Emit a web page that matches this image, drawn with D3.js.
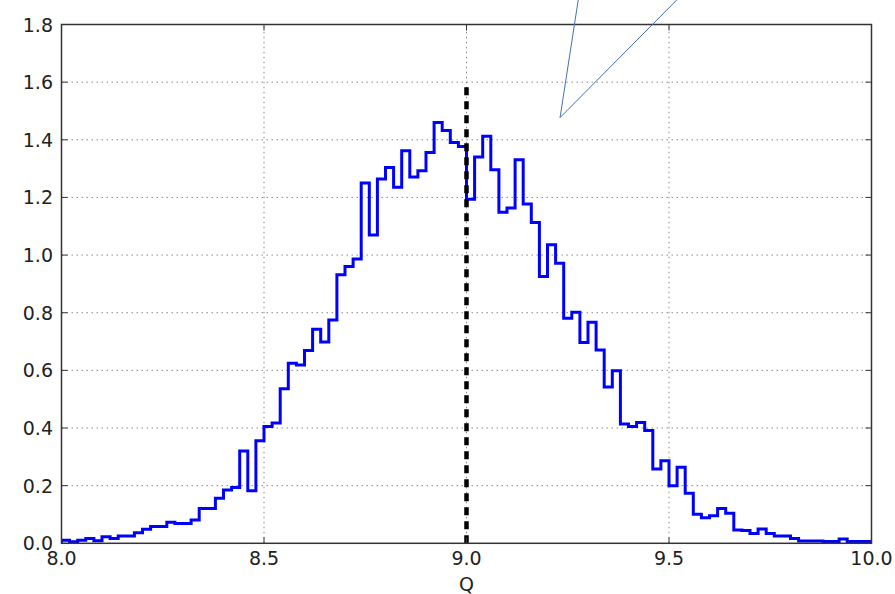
<!DOCTYPE html>
<html>
<head>
<meta charset="utf-8">
<script src="https://cdn.jsdelivr.net/npm/d3@7"></script>
<style>
  html, body { margin: 0; padding: 0; background: #fff; }
  svg { display: block; font-family: "DejaVu Sans", sans-serif; }
</style>
</head>
<body>
<div id="chart"></div>
<script>
// Histogram of Q, 100 bins from 8.0 to 10.0 (normalised density)
const binStart = 8.0;
const binWidth = 0.02;
const density = [
    0.011, 0.005, 0.011, 0.017, 0.009, 0.023, 0.017, 0.025, 0.025, 0.037,
    0.049, 0.058, 0.058, 0.073, 0.069, 0.069, 0.081, 0.121, 0.121, 0.156,
    0.185, 0.194, 0.320, 0.182, 0.356, 0.405, 0.417, 0.536, 0.625, 0.619,
    0.669, 0.743, 0.698, 0.775, 0.932, 0.960, 0.986, 1.250, 1.070, 1.264,
    1.304, 1.235, 1.362, 1.271, 1.293, 1.356, 1.460, 1.432, 1.391, 1.377,
    1.194, 1.340, 1.412, 1.296, 1.149, 1.163, 1.331, 1.177, 1.113, 0.926,
    1.036, 0.972, 0.781, 0.802, 0.697, 0.767, 0.671, 0.542, 0.599, 0.414,
    0.405, 0.419, 0.391, 0.258, 0.286, 0.200, 0.264, 0.174, 0.101, 0.089,
    0.096, 0.121, 0.104, 0.046, 0.044, 0.034, 0.050, 0.034, 0.025, 0.025,
    0.017, 0.008, 0.008, 0.008, 0.006, 0.006, 0.015, 0.006, 0.006, 0.006
];

// reference marker
const markerQ = 9.0;
const markerTop = 1.6;

// annotation wedge (apex and two far ends, data units)
const wedgeApex = [9.231, 1.477];
const wedgeEnds = [[9.283, 1.95], [9.565, 1.95]];

const xTicks = [8.0, 8.5, 9.0, 9.5, 10.0];
const yTicks = [0.0, 0.2, 0.4, 0.6, 0.8, 1.0, 1.2, 1.4, 1.6, 1.8];
const xLabel = 'Q';

const W = 895, H = 594;
const margin = { top: 24.5, right: 23.5, bottom: 50.7, left: 61.5 };

const x = d3.scaleLinear().domain([8.0, 10.0]).range([margin.left, W - margin.right]);
const y = d3.scaleLinear().domain([0, 1.8]).range([H - margin.bottom, margin.top]);

const svg = d3.select('#chart').append('svg')
    .attr('width', W).attr('height', H);

svg.append('defs').append('clipPath').attr('id', 'plot')
    .append('rect')
    .attr('x', x(8)).attr('y', y(1.8))
    .attr('width', x(10) - x(8)).attr('height', y(0) - y(1.8));

// Grid lines
const grid = svg.append('g')
    .attr('stroke', '#8a8a8a')
    .attr('stroke-width', 1)
    .attr('stroke-dasharray', '1.5,3.5');

grid.selectAll('.gx').data(xTicks.slice(1, -1)).enter().append('line')
    .attr('x1', d => x(d)).attr('x2', d => x(d))
    .attr('y1', y(0)).attr('y2', y(1.8));

grid.selectAll('.gy').data(yTicks.slice(1, -1)).enter().append('line')
    .attr('x1', x(8)).attr('x2', x(10))
    .attr('y1', d => y(d)).attr('y2', d => y(d));

// Histogram outline (step)
const pts = [[binStart, 0]];
density.forEach((v, i) => {
    const x0 = binStart + i * binWidth;
    pts.push([x0, v], [x0 + binWidth, v]);
});
pts.push([binStart + density.length * binWidth, 0]);

const line = d3.line().x(d => x(d[0])).y(d => y(d[1]));

svg.append('path')
    .datum(pts)
    .attr('clip-path', 'url(#plot)')
    .attr('fill', 'none')
    .attr('stroke', '#0000ff')
    .attr('stroke-width', 3)
    .attr('stroke-linejoin', 'miter')
    .attr('d', line);

// Dashed marker at Q = 9.0
svg.append('path')
    .datum([[markerQ, 0], [markerQ, markerTop]])
    .attr('fill', 'none')
    .attr('stroke', '#000')
    .attr('stroke-width', 4.5)
    .attr('stroke-dasharray', '8,6')
    .attr('d', line);

// Frame
svg.append('rect')
    .attr('x', x(8)).attr('y', y(1.8))
    .attr('width', x(10) - x(8)).attr('height', y(0) - y(1.8))
    .attr('fill', 'none')
    .attr('stroke', '#333')
    .attr('stroke-width', 1.5);

// Ticks (inward, all four sides)
const tickLen = 6;
const ticks = svg.append('g').attr('stroke', '#333').attr('stroke-width', 1);
xTicks.forEach(t => {
    ticks.append('line').attr('x1', x(t)).attr('x2', x(t)).attr('y1', y(0)).attr('y2', y(0) - tickLen);
    ticks.append('line').attr('x1', x(t)).attr('x2', x(t)).attr('y1', y(1.8)).attr('y2', y(1.8) + tickLen);
});
yTicks.forEach(t => {
    ticks.append('line').attr('x1', x(8)).attr('x2', x(8) + tickLen).attr('y1', y(t)).attr('y2', y(t));
    ticks.append('line').attr('x1', x(10)).attr('x2', x(10) - tickLen).attr('y1', y(t)).attr('y2', y(t));
});

// Tick labels
svg.append('g').selectAll('text').data(xTicks).enter().append('text')
    .attr('x', d => x(d)).attr('y', y(0) + 21.7)
    .attr('text-anchor', 'middle')
    .style('font-size', '19px').style('fill', '#222')
    .text(d => d.toFixed(1));

svg.append('g').selectAll('text').data(yTicks).enter().append('text')
    .attr('x', x(8) - 8.5).attr('y', d => y(d) + 7)
    .attr('text-anchor', 'end')
    .style('font-size', '19px').style('fill', '#222')
    .text(d => d.toFixed(1));

svg.append('text')
    .attr('x', (x(8) + x(10)) / 2).attr('y', 591)
    .attr('text-anchor', 'middle')
    .style('font-size', '19px').style('fill', '#222')
    .text(xLabel);

// Annotation wedge lines
wedgeEnds.forEach(end => {
    svg.append('path')
        .datum([wedgeApex, end])
        .attr('fill', 'none')
        .attr('stroke', '#4470b4')
        .attr('stroke-width', 1)
        .attr('d', line);
});
</script>
</body>
</html>
